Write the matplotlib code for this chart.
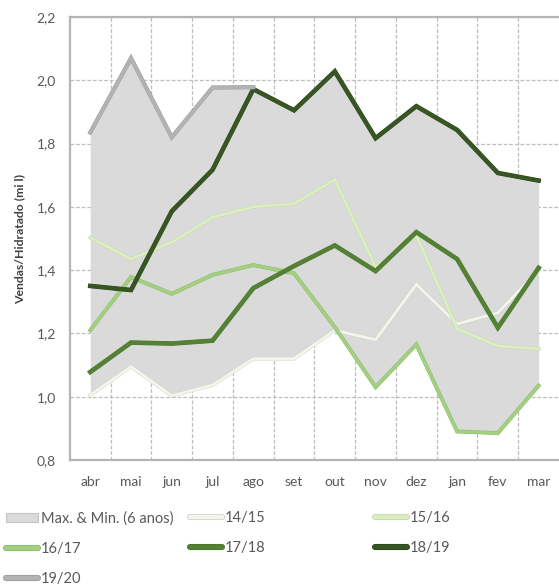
import numpy as np
import matplotlib
matplotlib.use('Agg')
import matplotlib.pyplot as plt
import matplotlib.patheffects as pe
from matplotlib.patches import Patch
from matplotlib.lines import Line2D
from matplotlib.ticker import FixedLocator, FuncFormatter

plt.rcParams['font.family'] = ['Lato', 'DejaVu Sans']

# --- dados ---
MESES = ['abr', 'mai', 'jun', 'jul', 'ago', 'set', 'out', 'nov', 'dez', 'jan', 'fev', 'mar']

s1415 = [1.005, 1.095, 1.003, 1.037, 1.120, 1.120, 1.210, 1.180, 1.355, 1.230, 1.265, 1.400]
s1516 = [1.503, 1.435, 1.488, 1.567, 1.600, 1.610, 1.686, 1.410, 1.510, 1.215, 1.160, 1.152]
s1617 = [1.210, 1.378, 1.325, 1.385, 1.416, 1.390, 1.220, 1.030, 1.165, 0.890, 0.885, 1.035]
s1718 = [1.078, 1.171, 1.168, 1.177, 1.343, 1.413, 1.478, 1.397, 1.520, 1.435, 1.218, 1.407]
s1819 = [1.350, 1.337, 1.586, 1.717, 1.972, 1.905, 2.028, 1.817, 1.918, 1.843, 1.707, 1.683]
s1920 = [1.835, 2.070, 1.820, 1.977, 1.978, np.nan, np.nan, np.nan, np.nan, np.nan, np.nan, np.nan]

SERIES = {
    '14/15': (s1415, '#f3f6ec', '#cfd3c6', 2.0),
    '15/16': (s1516, '#dcedc2', '#c6d9ab', 2.0),
    '16/17': (s1617, '#a2cf80', '#8cba6b', 2.2),
    '17/18': (s1718, '#548235', '#4a7530', 2.7),
    '18/19': (s1819, '#375623', '#2c461c', 2.7),
    '19/20': (s1920, '#b3b3b3', '#9c9c9c', 2.4),
}

TXT = '#595959'
GRID = '#bfbfbf'

fig = plt.figure(figsize=(5.59, 5.85), dpi=100)
ax = fig.add_axes([0.125, 0.2137, 0.875, 0.7573])

x = np.arange(len(MESES))
todas = np.array([v[0] for v in SERIES.values()], dtype=float)
env_max = np.nanmax(todas, axis=0)
env_min = np.nanmin(todas, axis=0)

ax.fill_between(x, env_min, env_max, color='#dadadb', lw=0, zorder=2)

for nome, (vals, cor, borda, lw) in SERIES.items():
    ax.plot(x, vals, color=cor, lw=lw, solid_joinstyle='miter', zorder=3,
            path_effects=[pe.Stroke(linewidth=lw + 0.6, foreground=borda), pe.Normal()])

ax.set_xlim(-0.5, 11.5)
ax.set_ylim(0.8, 2.2)
ax.set_yticks(np.arange(0.8, 2.21, 0.2))
ax.yaxis.set_major_formatter(FuncFormatter(lambda v, p: f'{v:.1f}'.replace('.', ',')))
ax.set_xticks(x)
ax.set_xticklabels(MESES)
ax.xaxis.set_minor_locator(FixedLocator(np.arange(0.5, 11, 1)))

ax.grid(axis='y', which='major', color=GRID, ls=(0, (3, 1.5)), lw=0.9, zorder=0)
ax.grid(axis='x', which='minor', color=GRID, ls=(0, (3, 1.5)), lw=0.9, zorder=0)
ax.set_axisbelow(True)

ax.tick_params(axis='both', which='both', length=0, colors=TXT, labelsize=10)
ax.tick_params(axis='x', pad=11.5)
ax.tick_params(axis='y', pad=10)

for s in ['left', 'top', 'bottom']:
    ax.spines[s].set_color('#b4b4b4')
    ax.spines[s].set_linewidth(1.6)
ax.spines['right'].set_visible(False)

ax.set_ylabel('Vendas/Hidratado (mi l)', fontsize=8.8, fontweight='bold', color='#404040', labelpad=8)

# --- legenda em 3 colunas ---
def linha(nome):
    vals, cor, borda, lw = SERIES[nome]
    return Line2D([], [], color=cor, lw=3.2, solid_capstyle='round',
                  path_effects=[pe.Stroke(linewidth=4.4, foreground=borda), pe.Normal()])

patch = Patch(facecolor='#dadadb', edgecolor='#c4c4c4', lw=0.8)
colunas = [
    ([patch, linha('16/17'), linha('19/20')], ['Max. & Min. (6 anos)', '16/17', '19/20'], 0.010),
    ([linha('14/15'), linha('17/18')], ['14/15', '17/18'], 0.340),
    ([linha('15/16'), linha('18/19')], ['15/16', '18/19'], 0.670),
]
for hs, ls, x0 in colunas:
    fig.legend(hs, ls, loc='upper left', bbox_to_anchor=(x0, 0.126), frameon=False,
               fontsize=10.5, labelcolor=TXT, handlelength=2.2, handleheight=0.65,
               handletextpad=0.2, labelspacing=1.1, borderpad=0, borderaxespad=0)

fig.savefig('out.png', dpi=100)
